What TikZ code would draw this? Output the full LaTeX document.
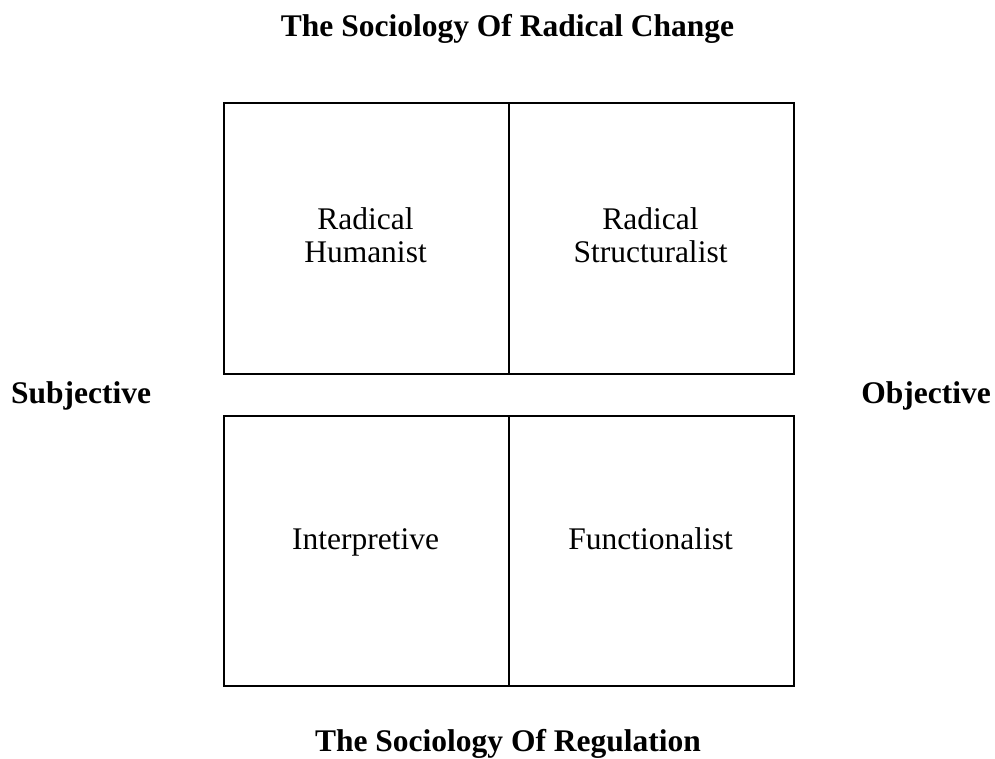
\documentclass[tikz,border=0pt]{standalone}
\usepackage{fontspec}
\setmainfont{Liberation Serif}
\begin{document}
\begin{tikzpicture}[x=1pt,y=-1pt,
  quad/.style={draw=black, line width=1.6pt, minimum width=285pt, anchor=north west, inner sep=0pt},
  heading/.style={font=\fontsize{31.5}{33.5}\selectfont\bfseries, inner sep=0pt, anchor=base},
  label/.style={font=\fontsize{31.5}{33.5}\selectfont, inner sep=0pt, anchor=base}]
\useasboundingbox[fill=white] (0,0) rectangle (995,758);
% quadrants
\node[quad, minimum height=271pt] (rh) at (223,102) {};
\node[quad, minimum height=271pt] (rs) at (508,102) {};
\node[quad, minimum height=270pt] (in) at (223,415) {};
\node[quad, minimum height=270pt] (fu) at (508,415) {};
% headings
\node[heading] (top) at (507.5,36) {The Sociology Of Radical Change};
\node[heading] (bottom) at (508,751.3) {The Sociology Of Regulation};
\node[heading, anchor=base west] (subj) at (11,403) {Subjective};
\node[heading, anchor=base east] (obj) at (991,403) {Objective};
% quadrant labels
\node[label] (rhl) at (365.5,229.3) {\begin{tabular}[t]{@{}c@{}}Radical\\Humanist\end{tabular}};
\node[label] (rsl) at (650.5,229.3) {\begin{tabular}[t]{@{}c@{}}Radical\\Structuralist\end{tabular}};
\node[label] (inl) at (365.5,549.3) {Interpretive};
\node[label] (ful) at (650.5,549.3) {Functionalist};
\end{tikzpicture}
\end{document}
